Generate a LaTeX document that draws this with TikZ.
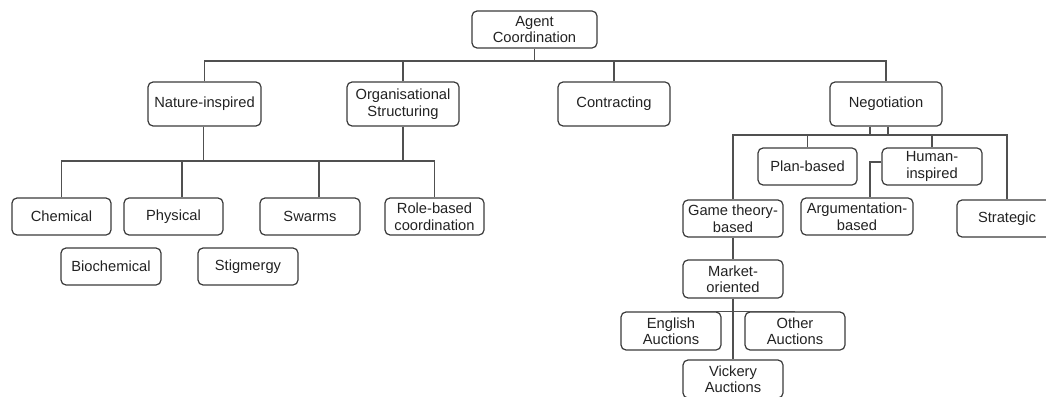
\documentclass[tikz,border=0pt]{standalone}
\usepackage{fontspec}
\setmainfont{Liberation Sans}
\definecolor{edge}{HTML}{505050}
\definecolor{frame}{HTML}{3A3A3A}
\definecolor{ink}{HTML}{222222}
\tikzset{
  box/.style={draw=frame, line width=1.2pt, rounded corners=5pt, align=center,
    inner sep=0pt, text=ink, font=\fontsize{14.7pt}{16.5pt}\selectfont},
  sz/.style 2 args={minimum width=#1pt, minimum height=#2pt},
  conn/.style={draw=edge, line width=1.3pt}
}
\begin{document}
\begin{tikzpicture}[x=1pt,y=-1pt]
\useasboundingbox (0,0) rectangle (1046,396);
\clip (0,0) rectangle (1046,396);
% nodes
\node[box, sz={125}{37}] (agent) at (534.5,29.5) {Agent\\Coordination};
\node[box, sz={113}{44}] (nature) at (204.5,104) {Nature-inspired};
\node[box, sz={112}{44}] (org) at (403,104) {Organisational\\Structuring};
\node[box, sz={112}{44}] (contr) at (614,104) {Contracting};
\node[box, sz={112}{44}] (nego) at (886,104) {Negotiation};
\node[box, sz={99}{37}] (chem) at (61.5,216.5) {Chemical};
\node[box, sz={99}{37}] (phys) at (173.5,216.5) {Physical};
\node[box, sz={100}{37}] (swarms) at (310,216.5) {Swarms};
\node[box, sz={99}{37}] (role) at (434.5,216.5) {Role-based\\coordination};
\node[box, sz={100}{37}] (bio) at (111,266.5) {Biochemical};
\node[box, sz={100}{37}] (stig) at (248,266.5) {Stigmergy};
\node[box, sz={99}{37}] (plan) at (807.5,166.5) {Plan-based};
\node[box, sz={100}{37}] (human) at (932,166.5) {Human-\\inspired};
\node[box, sz={112}{37}] (argu) at (857,216.5) {Argumentation-\\based};
\node[box, sz={100}{37}] (game) at (733,218.5) {Game theory-\\based};
\node[box, sz={100}{37}] (strat) at (1007,218.5) {Strategic};
\node[box, sz={100}{38}] (market) at (733,279) {Market-\\oriented};
\node[box, sz={100}{38}] (english) at (671,331) {English\\Auctions};
\node[box, sz={100}{38}] (other) at (795,331) {Other\\Auctions};
\node[box, sz={100}{38}] (vick) at (733,379) {Vickery\\Auctions};
% bus levels
\coordinate (b1) at (534,61);
\coordinate (b2) at (0,161);
\coordinate (b3) at (0,135);
% level 1
\draw[conn] (agent.south) -- (agent.south |- b1);
\draw[conn] (nature.north) -- (nature.north |- b1) -- (nego.north |- b1) -- (nego.north);
\draw[conn] (org.north) -- (org.north |- b1);
\draw[conn] (contr.north) -- (contr.north |- b1);
% level 2 (nature / organisational)
\draw[conn] (chem.north) -- (chem.north |- b2) -- (role.north |- b2) -- (role.north);
\draw[conn] ([xshift=8.5pt]phys.north) -- ([xshift=8.5pt]phys.north |- b2);
\draw[conn] ([xshift=9pt]swarms.north) -- ([xshift=9pt]swarms.north |- b2);
\draw[conn] ([xshift=-1pt]nature.south) -- ([xshift=-1pt]nature.south |- b2);
\draw[conn] (org.south) -- (org.south |- b2);
% negotiation
\draw[conn] (game.north) -- (game.north |- b3) -- (strat.north |- b3) -- (strat.north);
\draw[conn] ([xshift=-16pt]nego.south) -- ([xshift=-16pt]nego.south |- b3);
\draw[conn] ([xshift=2pt]nego.south) -- ([xshift=2pt]nego.south |- b3);
\draw[conn] (plan.north) -- (plan.north |- b3);
\draw[conn] (human.north) -- (human.north |- b3);
\draw[conn] ([yshift=4.5pt]human.west) -| ([xshift=13pt]argu.north);
% game theory branch
\draw[conn] (game.south) -- (market.north);
\draw[conn] (market.south) -- (vick.north);
\draw[conn] (english.north) -- (other.north);
\end{tikzpicture}
\end{document}
